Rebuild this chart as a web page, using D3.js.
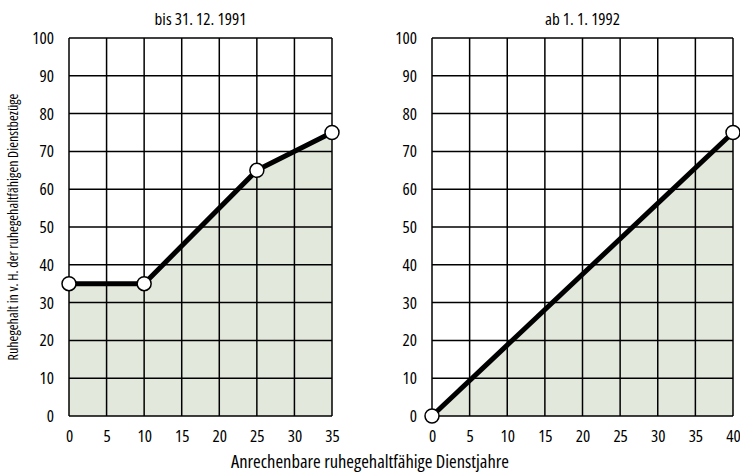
<!DOCTYPE html>
<html>
<head>
<meta charset="utf-8">
<script src="https://cdn.jsdelivr.net/npm/d3@7"></script>
<style>
  body { margin: 0; background: #fff; }
  text { font-family: "Open Sans", sans-serif; font-stretch: 75%; fill: #000; }
  .tick text { font-stretch: 82%; }
  .title { font-stretch: 87.5%; }
</style>
</head>
<body>
<div id="chart-area"></div>
<script>
// Daten
var leftYears = [0, 10, 25, 35];
var leftValues = [35, 35, 65, 75];
var rightYears = [0, 40];
var rightValues = [0, 75];
var leftXTicks = [0, 5, 10, 15, 20, 25, 30, 35];
var rightXTicks = [0, 5, 10, 15, 20, 25, 30, 35, 40];
var yTicks = [0, 10, 20, 30, 40, 50, 60, 70, 80, 90, 100];
var titles = ["bis 31. 12. 1991", "ab 1. 1. 1992"];

var width = 740, height = 476;
var plotTop = 38, plotBottom = 416;

var svg = d3.select("#chart-area")
    .append("svg")
        .attr("width", width)
        .attr("height", height);

function panel(x0, x1, years, values, xTicks, title) {
    var x = d3.scaleLinear()
        .domain([0, xTicks[xTicks.length - 1]])
        .range([x0, x1]);
    var y = d3.scaleLinear()
        .domain([0, 100])
        .range([plotBottom, plotTop]);

    var data = years.map((d, i) => { return {year: d, value: values[i]}; });

    var g = svg.append("g");

    // Fläche
    var area = d3.area()
        .x((d) => x(d.year))
        .y0(y(0))
        .y1((d) => y(d.value));
    g.append("path")
        .datum(data)
        .attr("d", area)
        .attr("fill", "#e3e8dc");

    // Gitter
    g.selectAll(".vgrid")
        .data(xTicks)
        .enter().append("line")
            .attr("x1", (d) => x(d))
            .attr("x2", (d) => x(d))
            .attr("y1", y(0))
            .attr("y2", y(100))
            .attr("stroke", "#000")
            .attr("stroke-width", 1.5);
    g.selectAll(".hgrid")
        .data(yTicks)
        .enter().append("line")
            .attr("x1", x.range()[0])
            .attr("x2", x.range()[1])
            .attr("y1", (d) => y(d))
            .attr("y2", (d) => y(d))
            .attr("stroke", "#000")
            .attr("stroke-width", 1.5);

    // Achsen
    var xAxis = d3.axisBottom(x).tickValues(xTicks).tickSize(0).tickPadding(14);
    var ax = g.append("g")
        .attr("transform", "translate(0," + y(0) + ")")
        .call(xAxis);
    ax.select(".domain").remove();
    ax.selectAll("text").attr("font-size", "17px").attr("font-family", null);

    var yAxis = d3.axisLeft(y).tickValues(yTicks).tickSize(0).tickPadding(15);
    var ay = g.append("g")
        .attr("transform", "translate(" + x.range()[0] + ",0)")
        .call(yAxis);
    ay.select(".domain").remove();
    ay.selectAll("text").attr("font-size", "17px").attr("font-family", null);

    // Linie
    var line = d3.line()
        .x((d) => x(d.year))
        .y((d) => y(d.value));
    g.append("path")
        .datum(data)
        .attr("d", line)
        .attr("fill", "none")
        .attr("stroke", "#000")
        .attr("stroke-width", 5)
        .attr("stroke-linejoin", "round");

    g.selectAll(".dot")
        .data(data)
        .enter().append("circle")
            .attr("cx", (d) => x(d.year))
            .attr("cy", (d) => y(d.value))
            .attr("r", 7)
            .attr("fill", "#fff")
            .attr("stroke", "#000")
            .attr("stroke-width", 1.5);

    g.append("text")
        .attr("class", "title")
        .attr("x", (x0 + x1) / 2)
        .attr("y", 25)
        .attr("text-anchor", "middle")
        .attr("font-size", "17px")
        .text(title);
}

panel(69, 332, leftYears, leftValues, leftXTicks, titles[0]);
panel(432, 733, rightYears, rightValues, rightXTicks, titles[1]);

svg.append("text")
    .attr("x", -(plotTop + plotBottom) / 2)
    .attr("y", 18)
    .attr("transform", "rotate(-90)")
    .attr("text-anchor", "middle")
    .attr("font-size", "14px")
    .text("Ruhegehalt in v. H. der ruhegehaltfähigen Dienstbezüge");

svg.append("text")
    .attr("x", 370)
    .attr("y", 468)
    .attr("text-anchor", "middle")
    .attr("font-size", "18.5px")
    .text("Anrechenbare ruhegehaltfähige Dienstjahre");
</script>
</body>
</html>
